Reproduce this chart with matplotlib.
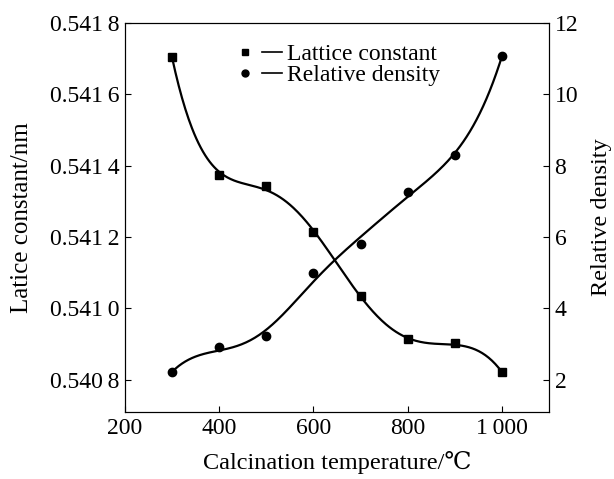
import numpy as np
import matplotlib
matplotlib.use("Agg")
import matplotlib.pyplot as plt
from matplotlib.legend_handler import HandlerTuple
from matplotlib.lines import Line2D

plt.rcParams['font.family'] = ['Liberation Serif', 'DejaVu Serif']

# data
temperature = [300, 400, 500, 600, 700, 800, 900, 1000]
lattice_constant = [0.541705, 0.541374, 0.541343, 0.541214, 0.541034, 0.540914, 0.540902, 0.540821]
relative_density = [2.21, 2.91, 3.22, 4.99, 5.80, 7.26, 8.30, 11.07]

x_ticks = [200, 400, 600, 800, 1000]
x_tick_labels = ['200', '400', '600', '800', '1\u2009000']
left_ticks = [0.5408, 0.5410, 0.5412, 0.5414, 0.5416, 0.5418]
left_tick_labels = ['0.540\u20098', '0.541\u20090', '0.541\u20092', '0.541\u20094', '0.541\u20096', '0.541\u20098']
right_ticks = [2, 4, 6, 8, 10, 12]


def smooth_spline(x, y, lam, n=300):
    # penalised cubic spline (truncated power basis, ridge on the knot terms)
    x = np.asarray(x, float)
    y = np.asarray(y, float)
    knots = np.arange(325, 1000, 25)

    def basis(u):
        u = (np.asarray(u, float) - 650) / 350
        cols = [np.ones_like(u), u, u**2, u**3]
        for k in knots:
            cols.append(np.clip(u - (k - 650) / 350, 0, None) ** 3)
        return np.column_stack(cols)

    B = basis(x)
    P = np.eye(B.shape[1]) * lam
    P[:4, :4] = 0
    y0 = y.mean()
    coef = np.linalg.solve(B.T @ B + P + 1e-12 * np.eye(B.shape[1]), B.T @ (y - y0))
    xf = np.linspace(x.min(), x.max(), n)
    return xf, basis(xf) @ coef + y0


fig = plt.figure(figsize=(6.14, 4.79), dpi=100)
ax = fig.add_axes([0.2036, 0.1399, 0.6905, 0.8121])
ax2 = ax.twinx()

xf, yf = smooth_spline(temperature, lattice_constant, 3e-4)
ax.plot(xf, yf, color='black', lw=1.6)
ax.plot(temperature, lattice_constant, 's', color='black', ms=6)

xf2, yf2 = smooth_spline(temperature, relative_density, 2e-4)
ax2.plot(xf2, yf2, color='black', lw=1.6)
ax2.plot(temperature, relative_density, 'o', color='black', ms=6)

ax.set_xlim(200, 1100)
ax.set_ylim(0.54071, 0.5418)
ax2.set_ylim(1.1, 12)

ax.set_xticks(x_ticks)
ax.set_xticklabels(x_tick_labels)
ax.set_yticks(left_ticks)
ax.set_yticklabels(left_tick_labels)
ax2.set_yticks(right_ticks)

ax.tick_params(axis='both', direction='in', length=4, labelsize=17, top=False, pad=4)
ax2.tick_params(axis='y', direction='in', length=4, labelsize=17, pad=4)

ax.set_xlabel('Calcination temperature/\u2103', fontsize=17.5, labelpad=9)
ax.set_ylabel('Latice constant/nm', fontsize=18, labelpad=12)
ax2.set_ylabel('Relative density', fontsize=17.5, labelpad=9)

sq = Line2D([], [], marker='s', color='black', ls='none', ms=5)
ci = Line2D([], [], marker='o', color='black', ls='none', ms=5)
ln = Line2D([], [], color='black', lw=1.2)
ax.legend([(sq, ln), (ci, ln)], ['Lattice constant', 'Relative density'],
          handler_map={tuple: HandlerTuple(ndivide=None, pad=0.3)},
          loc='upper left', bbox_to_anchor=(0.22, 0.99), frameon=False,
          fontsize=17, handlelength=2.0, handletextpad=0.2, labelspacing=0.0,
          borderpad=0.2)

fig.savefig('out.png', dpi=100)
